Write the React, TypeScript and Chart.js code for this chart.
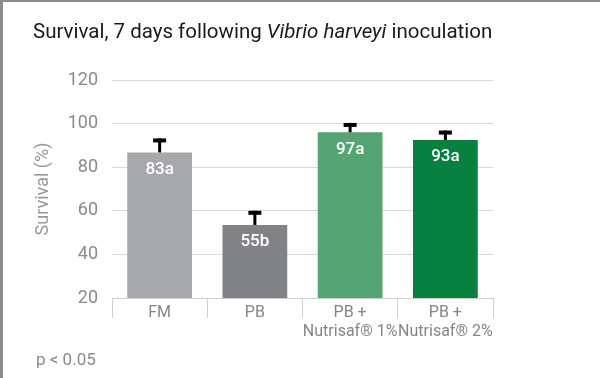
import React, { useEffect, useRef } from "react";
import { Chart, registerables } from "chart.js";

Chart.register(...registerables);

const categories: string[][] = [["FM"], ["PB"], ["PB +", "Nutrisaf® 1%"], ["PB +", "Nutrisaf® 2%"]];
const survival: number[] = [86.8, 53.5, 96.0, 92.5];
const errorTop: number[] = [93.2, 60.0, 100.3, 96.8];
const valueLabels: string[] = ["83a", "55b", "97a", "93a"];
const barColors: string[] = ["#a7a8ab", "#808285", "#55a574", "#068140"];
const yTicks: number[] = [20, 40, 60, 80, 100, 120];

const FONT = "Roboto, 'Noto Sans', sans-serif";

const decorPlugin = {
  id: "decor",
  afterDatasetsDraw(chart: any) {
    const ctx = chart.ctx;
    const meta = chart.getDatasetMeta(0);
    const y = chart.scales.y;
    ctx.save();
    meta.data.forEach((bar: any, i: number) => {
      const x = bar.x;
      const top = bar.y;
      const et = y.getPixelForValue(errorTop[i]);
      ctx.strokeStyle = "#000";
      ctx.lineWidth = 3;
      ctx.beginPath();
      ctx.moveTo(x, top);
      ctx.lineTo(x, et);
      ctx.stroke();
      ctx.lineWidth = 4;
      ctx.beginPath();
      ctx.moveTo(x - 6.5, et + 2);
      ctx.lineTo(x + 6.5, et + 2);
      ctx.stroke();
      ctx.fillStyle = "#ffffff";
      ctx.font = `500 17px ${FONT}`;
      ctx.textAlign = "center";
      ctx.textBaseline = "middle";
      ctx.fillText(valueLabels[i], x, top + 17);
    });
    ctx.restore();
  },
  afterDraw(chart: any) {
    const ctx = chart.ctx;
    ctx.save();
    // frame lines
    ctx.fillStyle = "#8c8c8c";
    ctx.fillRect(0, 0, 3, chart.height);
    ctx.fillRect(0, 0, chart.width, 2);
    // title with italic part
    const parts: [string, boolean][] = [
      ["Survival, 7 days following ", false],
      ["Vibrio harveyi", true],
      [" inoculation", false],
    ];
    let x = 33;
    ctx.fillStyle = "#1a1a1a";
    ctx.textBaseline = "alphabetic";
    ctx.textAlign = "left";
    parts.forEach(([t, it]) => {
      ctx.font = `${it ? "italic " : ""}20.5px ${FONT}`;
      ctx.fillText(t, x, 38);
      x += ctx.measureText(t).width;
    });
    // y title
    const ca = chart.chartArea;
    ctx.save();
    ctx.translate(43, (ca.top + ca.bottom) / 2);
    ctx.rotate(-Math.PI / 2);
    ctx.fillStyle = "#9a9a9a";
    ctx.font = `18px ${FONT}`;
    ctx.textAlign = "center";
    ctx.textBaseline = "middle";
    ctx.fillText("Survival (%)", 0, 0);
    ctx.restore();
    // footnote
    ctx.fillStyle = "#8a8a8a";
    ctx.font = `17px ${FONT}`;
    ctx.textAlign = "left";
    ctx.textBaseline = "alphabetic";
    ctx.fillText("p < 0.05", 36, 365);
    ctx.restore();
  },
};

export default function App() {
  const ref = useRef<HTMLCanvasElement>(null);
  useEffect(() => {
    document.body.style.margin = "0";
    const chart = new Chart(ref.current!, {
      type: "bar",
      data: {
        labels: categories,
        datasets: [
          {
            data: survival,
            backgroundColor: barColors,
            borderWidth: 0,
            categoryPercentage: 1,
            barPercentage: 0.68,
          },
        ],
      },
      options: {
        animation: false,
        responsive: false,
        maintainAspectRatio: false,
        layout: { padding: { top: 80, right: 107, left: 0, bottom: 0 } },
        plugins: { legend: { display: false }, tooltip: { enabled: false } },
        scales: {
          x: {
            afterFit: (s: any) => {
              s.height = 80;
            },
            grid: {
              offset: true,
              drawOnChartArea: false,
              drawTicks: true,
              tickLength: 20,
              color: "#cfcfcf",
            },
            border: { display: true, color: "#cfcfcf" },
            ticks: {
              padding: -15,
              color: "#858585",
              font: { family: FONT, size: 16 },
              maxRotation: 0,
              autoSkip: false,
            },
          },
          y: {
            min: 20,
            max: 120,
            afterFit: (s: any) => {
              s.width = 112;
            },
            afterBuildTicks: (s: any) => {
              s.ticks = yTicks.map((v) => ({ value: v }));
            },
            grid: { color: "#d9d9d9", drawTicks: false },
            border: { display: false },
            ticks: {
              padding: 14,
              color: "#8a8a8a",
              font: { family: FONT, size: 18 },
            },
          },
        },
      },
      plugins: [decorPlugin],
    });
    return () => chart.destroy();
  }, []);
  return <canvas ref={ref} width={600} height={378} style={{ display: "block" }} />;
}
